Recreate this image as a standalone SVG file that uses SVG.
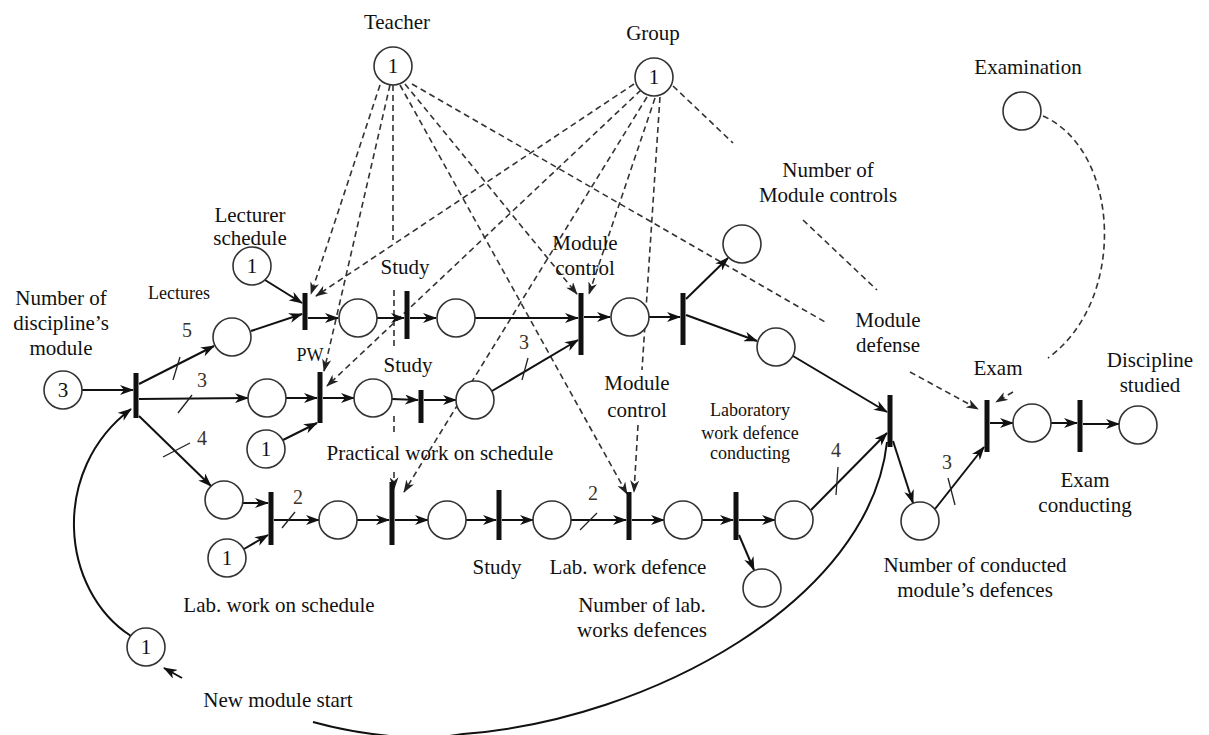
<svg xmlns="http://www.w3.org/2000/svg" width="1209" height="735" viewBox="0 0 1209 735">
  <style>
    .place { fill: #fff; stroke: #333; stroke-width: 1.6; }
    .bar { fill: #111; }
    .arc { fill: none; stroke: #111; stroke-width: 2; marker-end: url(#ah); }
    .plain { fill: none; stroke: #111; stroke-width: 2; }
    .dash { fill: none; stroke: #333; stroke-width: 1.6; stroke-dasharray: 6 4; }
    .dash-a { fill: none; stroke: #333; stroke-width: 1.6; stroke-dasharray: 6 4; marker-end: url(#ahd); }
    .tick { stroke: #222; stroke-width: 1.3; }
    text { font-family: "Liberation Serif", "Times New Roman", serif; fill: #111; text-anchor: middle; }
    .lbl { font-size: 21px; }
    .sm { font-size: 18px; }
    .w { font-size: 20px; fill: #3a3228; }
    .tok { font-size: 21px; }
  </style>
  <defs>
    <marker id="ah" viewBox="0 0 14 10" refX="13" refY="5" markerWidth="14" markerHeight="10" markerUnits="userSpaceOnUse" orient="auto">
      <path d="M0,0 L14,5 L0,10 L4,5 z" fill="#111"/>
    </marker>
    <marker id="ahd" viewBox="0 0 14 10" refX="13" refY="5" markerWidth="13" markerHeight="9" markerUnits="userSpaceOnUse" orient="auto">
      <path d="M0,0 L14,5 L0,10 L4,5 z" fill="#222"/>
    </marker>
  </defs>

  <!-- resource links (dashed) -->
  <g id="resource-links">
    <path class="dash-a" d="M380,85 L311,294"/>
    <path class="dash-a" d="M390,85 L324,371"/>
    <path class="dash" d="M393,85 V240 M394,290 V346 M394,416 V432"/>
    <path class="dash-a" d="M394,472 V489"/>
    <path class="dash-a" d="M634,84 L316,296"/>
    <path class="dash-a" d="M641,90 L327,386"/>
    <path class="dash-a" d="M647,97 L404,492"/>
    <path class="dash-a" d="M400,85 L627,494"/>
    <path class="dash-a" d="M405,84 L577,294"/>
    <path class="dash-a" d="M655,98 L589,294"/>
    <path class="dash" d="M660,97 L642,370"/>
    <path class="dash-a" d="M638,425 L634,492"/>
    <path class="dash" d="M412,84 L825,322"/>
    <path class="dash-a" d="M910,372 L978,409"/>
    <path class="dash" d="M673,86 L733,143 M803,220 L877,290"/>
    <path class="dash" d="M1043,116 C1120,150 1128,300 1048,358"/>
    <path class="dash-a" d="M1013,392 L996,402"/>
  </g>

  <!-- arcs -->
  <g id="arcs">
    <path class="arc" d="M82,390 L133,390"/>
    <path class="arc" d="M139,384 L214,346"/>
    <path class="arc" d="M139,399 L248,398"/>
    <path class="arc" d="M139,416 L211,486"/>
    <path class="arc" d="M251,331 L302,314"/>
    <path class="arc" d="M265,280 L302,303"/>
    <path class="arc" d="M308,318 L338,318"/>
    <path class="arc" d="M377,318 L404,318"/>
    <path class="arc" d="M410,318 L436,318"/>
    <path class="arc" d="M475,318 L578,318"/>
    <path class="arc" d="M492,391 L578,340"/>
    <path class="arc" d="M584,317 L610,317"/>
    <path class="arc" d="M649,317 L680,317"/>
    <path class="arc" d="M686,299 L728,258"/>
    <path class="arc" d="M686,315 L757,341"/>
    <path class="arc" d="M793,356 L887,412"/>
    <path class="arc" d="M286,398 L317,398"/>
    <path class="arc" d="M283,440 L317,423"/>
    <path class="arc" d="M323,398 L354,398"/>
    <path class="arc" d="M392,399 L418,400"/>
    <path class="arc" d="M424,400 L456,400"/>
    <path class="arc" d="M243,503 L268,503"/>
    <path class="arc" d="M244,549 L268,535"/>
    <path class="arc" d="M274,520 L319,520"/>
    <path class="arc" d="M357,520 L389,520"/>
    <path class="arc" d="M395,520 L428,520"/>
    <path class="arc" d="M466,520 L496,520"/>
    <path class="arc" d="M502,520 L533,520"/>
    <path class="arc" d="M571,520 L626,520"/>
    <path class="arc" d="M632,520 L664,520"/>
    <path class="arc" d="M702,520 L733,520"/>
    <path class="arc" d="M739,520 L775,520"/>
    <path class="arc" d="M739,535 L754,570"/>
    <path class="arc" d="M811,510 L887,433"/>
    <path class="arc" d="M893,441 L913,503"/>
    <path class="arc" d="M935,509 L984,447"/>
    <path class="arc" d="M990,423 L1013,423"/>
    <path class="arc" d="M1051,423 L1077,423"/>
    <path class="arc" d="M1083,424 L1119,424"/>
    <path class="plain" d="M887,442 C870,600 650,720 463,734 C420,742 360,735 313,722"/>
    <path class="arc" d="M131,636 C60,590 50,470 131,409"/>
    <path class="arc" d="M182,678 L164,668"/>
    <!-- arc weight ticks -->
    <line class="tick" x1="173" y1="380" x2="180" y2="357"/>
    <line class="tick" x1="178" y1="413" x2="192" y2="395"/>
    <line class="tick" x1="163" y1="457" x2="190" y2="443"/>
    <line class="tick" x1="522" y1="380" x2="528" y2="358"/>
    <line class="tick" x1="282" y1="528" x2="295" y2="512"/>
    <line class="tick" x1="580" y1="530" x2="597" y2="513"/>
    <line class="tick" x1="838" y1="467" x2="836" y2="495"/>
    <line class="tick" x1="948" y1="478" x2="955" y2="505"/>
    <text class="w" x="187" y="337">5</text>
    <text class="w" x="202" y="387">3</text>
    <text class="w" x="202" y="445">4</text>
    <text class="w" x="524" y="349">3</text>
    <text class="w" x="298" y="504">2</text>
    <text class="w" x="593" y="500">2</text>
    <text class="w" x="836" y="457">4</text>
    <text class="w" x="947" y="469">3</text>
  </g>

  <!-- places -->
  <g id="p-modules"><circle class="place" cx="63" cy="390" r="19"/><text class="tok" x="63" y="397">3</text></g>
  <g id="p-lecturer-schedule"><circle class="place" cx="252" cy="266" r="19"/><text class="tok" x="252" y="273">1</text></g>
  <g id="p-lectures"><circle class="place" cx="232" cy="337" r="19"/></g>
  <g id="p-top2"><circle class="place" cx="358" cy="318" r="19"/></g>
  <g id="p-top3"><circle class="place" cx="456" cy="318" r="19"/></g>
  <g id="p-control"><circle class="place" cx="630" cy="317" r="19"/></g>
  <g id="p-control-count"><circle class="place" cx="742" cy="244" r="19"/></g>
  <g id="p-defense-ready"><circle class="place" cx="776" cy="347" r="19"/></g>
  <g id="p-pw"><circle class="place" cx="267" cy="398" r="19"/></g>
  <g id="p-pw-schedule"><circle class="place" cx="266" cy="449" r="19"/><text class="tok" x="266" y="456">1</text></g>
  <g id="p-mid2"><circle class="place" cx="373" cy="398" r="19"/></g>
  <g id="p-mid3"><circle class="place" cx="475" cy="400" r="19"/></g>
  <g id="p-lab"><circle class="place" cx="224" cy="500" r="19"/></g>
  <g id="p-lab-schedule"><circle class="place" cx="227" cy="558" r="19"/><text class="tok" x="227" y="565">1</text></g>
  <g id="p-b2"><circle class="place" cx="338" cy="520" r="19"/></g>
  <g id="p-b3"><circle class="place" cx="447" cy="520" r="19"/></g>
  <g id="p-b4"><circle class="place" cx="552" cy="520" r="19"/></g>
  <g id="p-b5"><circle class="place" cx="683" cy="520" r="19"/></g>
  <g id="p-b6"><circle class="place" cx="794" cy="520" r="19"/></g>
  <g id="p-lab-defences"><circle class="place" cx="762" cy="588" r="19"/></g>
  <g id="p-conducted"><circle class="place" cx="920" cy="521" r="19"/></g>
  <g id="p-exam"><circle class="place" cx="1032" cy="423" r="19"/></g>
  <g id="p-studied"><circle class="place" cx="1138" cy="425" r="19"/></g>
  <g id="p-teacher"><circle class="place" cx="393" cy="66" r="19"/><text class="tok" x="393" y="73">1</text></g>
  <g id="p-group"><circle class="place" cx="654" cy="77" r="19"/><text class="tok" x="654" y="84">1</text></g>
  <g id="p-examination"><circle class="place" cx="1022" cy="111" r="19"/></g>
  <g id="p-new-module"><circle class="place" cx="146" cy="647" r="19"/><text class="tok" x="146" y="654">1</text></g>

  <!-- transitions -->
  <g id="t-start"><rect class="bar" x="133.5" y="373" width="5" height="45"/></g>
  <g id="t-lectures"><rect class="bar" x="302.5" y="293" width="5" height="37"/></g>
  <g id="t-study-top"><rect class="bar" x="404.5" y="291" width="5" height="48"/></g>
  <g id="t-module-control"><rect class="bar" x="578.5" y="293" width="5" height="62"/></g>
  <g id="t-control-done"><rect class="bar" x="680.5" y="293" width="5" height="52"/></g>
  <g id="t-pw"><rect class="bar" x="317.5" y="372" width="5" height="51"/></g>
  <g id="t-study-mid"><rect class="bar" x="418.5" y="390" width="5" height="33"/></g>
  <g id="t-lab"><rect class="bar" x="268.5" y="492" width="5" height="53"/></g>
  <g id="t-lab2"><rect class="bar" x="389.5" y="482" width="5" height="63"/></g>
  <g id="t-study-bottom"><rect class="bar" x="496.5" y="490" width="5" height="50"/></g>
  <g id="t-lab-defence"><rect class="bar" x="626.5" y="492" width="5" height="48"/></g>
  <g id="t-lab-conducting"><rect class="bar" x="733.5" y="492" width="5" height="48"/></g>
  <g id="t-module-defense"><rect class="bar" x="887.5" y="395" width="5" height="52"/></g>
  <g id="t-exam"><rect class="bar" x="984.5" y="400" width="5" height="52"/></g>
  <g id="t-exam-conducting"><rect class="bar" x="1077.5" y="400" width="5" height="52"/></g>

  <!-- labels -->
  <g id="labels">
    <text class="lbl" x="397" y="29">Teacher</text>
    <text class="lbl" x="653" y="40">Group</text>
    <text class="lbl" x="1028" y="74">Examination</text>
    <text class="lbl" x="828" y="177">Number of</text>
    <text class="lbl" x="828" y="202">Module controls</text>
    <text class="lbl" x="250" y="222">Lecturer</text>
    <text class="lbl" x="250" y="245">schedule</text>
    <text class="lbl" x="61" y="305">Number of</text>
    <text class="lbl" x="61" y="330">discipline’s</text>
    <text class="lbl" x="61" y="355">module</text>
    <text class="sm" x="179" y="299">Lectures</text>
    <text class="sm" x="310" y="361">PW</text>
    <text class="lbl" x="405" y="274">Study</text>
    <text class="lbl" x="408" y="372">Study</text>
    <text class="lbl" x="585" y="250">Module</text>
    <text class="lbl" x="585" y="275">control</text>
    <text class="lbl" x="637" y="390">Module</text>
    <text class="lbl" x="637" y="417">control</text>
    <text class="sm" x="750" y="416">Laboratory</text>
    <text class="sm" x="750" y="439">work defence</text>
    <text class="sm" x="750" y="459">conducting</text>
    <text class="lbl" x="440" y="460">Practical work on schedule</text>
    <text class="lbl" x="888" y="327">Module</text>
    <text class="lbl" x="888" y="352">defense</text>
    <text class="lbl" x="998" y="375">Exam</text>
    <text class="lbl" x="1150" y="367">Discipline</text>
    <text class="lbl" x="1150" y="392">studied</text>
    <text class="lbl" x="1085" y="487">Exam</text>
    <text class="lbl" x="1085" y="512">conducting</text>
    <text class="lbl" x="975" y="572">Number of conducted</text>
    <text class="lbl" x="975" y="597">module’s defences</text>
    <text class="lbl" x="497" y="574">Study</text>
    <text class="lbl" x="628" y="574">Lab. work defence</text>
    <text class="lbl" x="642" y="612">Number of lab.</text>
    <text class="lbl" x="642" y="637">works defences</text>
    <text class="lbl" x="279" y="612">Lab. work on schedule</text>
    <text class="lbl" x="278" y="707">New module start</text>
  </g>
</svg>
